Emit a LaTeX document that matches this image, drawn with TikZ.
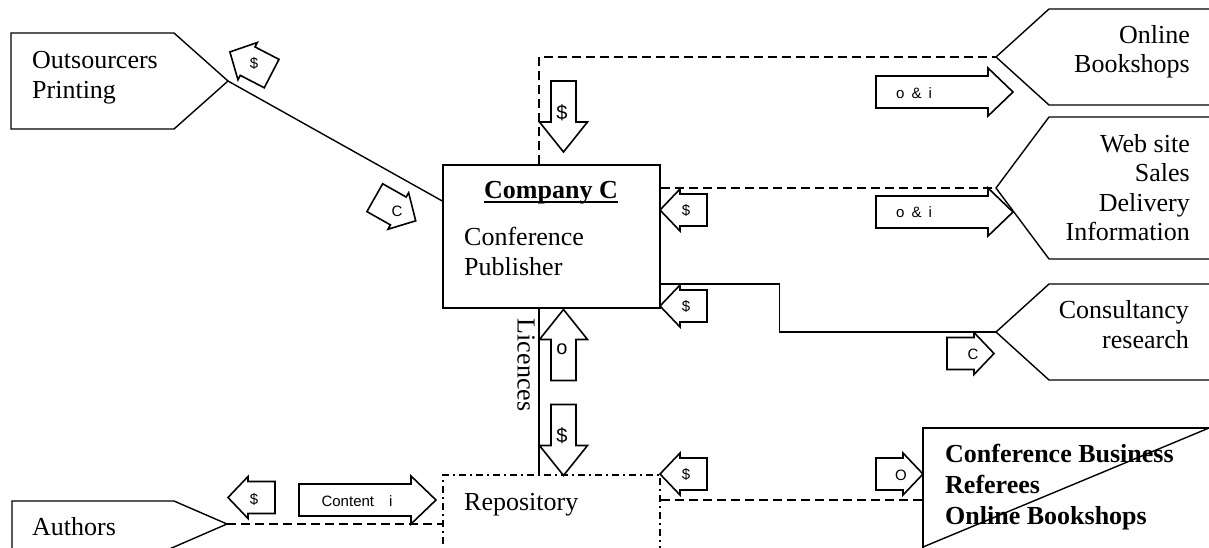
\documentclass[tikz,border=0pt]{standalone}
\usepackage{fontspec}
\setmainfont{Liberation Serif}
\newfontfamily\labelfont{Liberation Sans}

\tikzset{
  outline/.style={draw=black, line width=1.4pt, line join=miter},
  flowline/.style={draw=black, line width=1.4pt},
  dashline/.style={flowline, dash pattern=on 9pt off 5pt},
  dashdotline/.style={draw=black, line width=1.4pt, dash pattern=on 7pt off 4pt on 2pt off 4pt},
  arrowshape/.style={draw=black, line width=1.6pt, line join=miter},
  entity/.style={font=\fontsize{26}{30}\selectfont, inner sep=0pt},
  tag/.style={font=\labelfont\fontsize{15}{17}\selectfont, inner sep=0pt},
  bigtag/.style={font=\labelfont\fontsize{20}{22}\selectfont, inner sep=0pt},
}

% block arrow: centre x, centre y, direction, body length, head length, body width, head width
\newcommand\drawblockarrow[7]{%
  \begin{scope}[shift={(#1,#2)},rotate=#3]
    \pgfmathsetmacro\halflen{(#4+#5)/2}
    \pgfmathsetmacro\neck{\halflen-#5}
    \draw[arrowshape] (-\halflen,-#6/2) -- (\neck,-#6/2) -- (\neck,-#7/2) -- (\halflen,0)
      -- (\neck,#7/2) -- (\neck,#6/2) -- (-\halflen,#6/2) -- cycle;
  \end{scope}}
\newcommand\flowarrowsmall[3]{\drawblockarrow{#1}{#2}{#3}{27}{20}{32}{42}}
\newcommand\flowarrowlong[3]{\drawblockarrow{#1}{#2}{#3}{112}{25}{32}{48}}
\newcommand\flowarrowvert[3]{\drawblockarrow{#1}{#2}{#3}{41}{30}{25}{48}}

\begin{document}
\begin{tikzpicture}[x=1pt,y=1pt]
\useasboundingbox (0,0) rectangle (1209,-547);
\fill[white] (0,0) rectangle (1209,-547);
\clip (0,0) rectangle (1209,-547);

% ---- central boxes
\node[outline, minimum width=217pt, minimum height=143pt, inner sep=0pt] (company) at (551.5,-236.5) {};
\node[dashdotline, minimum width=217pt, minimum height=150pt, inner sep=0pt] (repo) at (551.5,-550) {};

% ---- partner shapes
\coordinate (outsrc) at (228,-81);
\draw[outline] (11,-33) -- (174,-33) -- (outsrc) -- (174,-129) -- (11,-129) -- cycle;

\coordinate (online) at (996,-57);
\draw[outline] (1215,-9) -- (1049,-9) -- (online) -- (1049,-105) -- (1215,-105);

\coordinate (website) at (996,-188);
\draw[outline] (1215,-117) -- (1049,-117) -- (website) -- (1049,-259) -- (1215,-259);

\coordinate (consult) at (996,-332);
\draw[outline] (1215,-284) -- (1049,-284) -- (consult) -- (1049,-380) -- (1215,-380);

\coordinate (confbiz) at (923,-500);
\draw[outline] (1215,-428) -- (923,-428) -- (923,-560);
\draw[outline] (1212,-426.75) -- (923,-547);

\coordinate (authors) at (227,-524);
\draw[outline] (12,-560) -- (12,-501) -- (174,-501) -- (authors) -- (174,-547) -- (144,-560);

% ---- connectors
\draw[flowline] (outsrc) -- ([yshift=35.5pt]company.west);
\draw[dashline] ([xshift=-12.5pt]company.north) |- (online);
\draw[dashline] ([yshift=48.5pt]company.east) -- (website);
\draw[flowline] ([yshift=-47.5pt]company.east) -- ++(119,0) |- (consult);
\draw[flowline] ([xshift=-12.5pt]company.south) -- ([xshift=-12.5pt]repo.north);
\draw[dashline] ([yshift=50pt]repo.east) -- (confbiz);
\draw[dashline] (authors) -- (repo.west |- authors);

% ---- flow arrows
\flowarrowsmall{250.75}{-62.75}{152.6}
\flowarrowsmall{395.25}{-209.25}{-29.5}
\flowarrowvert{563.5}{-116.5}{-90}
\flowarrowsmall{683.5}{-210}{180}
\flowarrowsmall{683.5}{-306}{180}
\flowarrowvert{563.5}{-345}{90}
\flowarrowvert{563.5}{-440}{-90}
\flowarrowsmall{683.5}{-474}{180}
\flowarrowlong{944.5}{-92}{0}
\flowarrowlong{944.5}{-212}{0}
\flowarrowsmall{970.5}{-353.5}{0}
\flowarrowsmall{899.5}{-474}{0}
\flowarrowsmall{251.5}{-497.5}{180}
\flowarrowlong{367.5}{-500}{0}

% ---- arrow labels
\node[tag] (tOutPay) at (254,-63) {\$};
\node[tag] (tOutC) at (397,-211) {C};
\node[bigtag] (tTopPay) at (562,-113) {\$};
\node[tag] (tWebPay) at (686,-210) {\$};
\node[tag] (tConsPay) at (686,-306) {\$};
\node[bigtag] (tRepoO) at (562,-349) {o};
\node[bigtag] (tRepoPay) at (562,-436) {\$};
\node[tag] (tBizPay) at (686,-474) {\$};
\node[tag] (tOnlineOI) at (914,-93) {o\hspace{7pt}\&\hspace{7pt}i};
\node[tag] (tWebOI) at (914,-212) {o\hspace{7pt}\&\hspace{7pt}i};
\node[tag] (tConsC) at (973,-354) {C};
\node[tag] (tBizO) at (901,-475) {O};
\node[tag] (tAuthPay) at (254,-499) {\$};
\node[tag] (tContent) at (357,-501) {Content\hspace{15pt}i};

% ---- texts
\node[entity, anchor=base west] (outA) at (32,-68) {Outsourcers};
\node[entity, anchor=base west] (outB) at (32,-98) {Printing};

\node[entity, anchor=base] (coTitle) at (551,-198) {\bfseries Company C};
\draw[line width=1.8pt] ([yshift=-4pt]coTitle.base west) -- ([yshift=-4pt]coTitle.base east);
\node[entity, anchor=base west] (coA) at (464,-245) {Conference};
\node[entity, anchor=base west] (coB) at (464,-275) {Publisher};

\node[entity, anchor=base east] (onA) at (1190,-43) {Online};
\node[entity, anchor=base east] (onB) at (1190,-72) {Bookshops};

\node[entity, anchor=base east] (webA) at (1190,-152) {Web site};
\node[entity, anchor=base east] (webB) at (1190,-181) {Sales};
\node[entity, anchor=base east] (webC) at (1190,-211) {Delivery};
\node[entity, anchor=base east] (webD) at (1190,-240) {Information};

\node[entity, anchor=base east] (consA) at (1189,-318) {Consultancy};
\node[entity, anchor=base east] (consB) at (1189,-348) {research};

\node[entity, anchor=base west] (bizA) at (945,-462) {\bfseries Conference Business};
\node[entity, anchor=base west] (bizB) at (945,-493) {\bfseries Referees};
\node[entity, anchor=base west] (bizC) at (945,-524) {\bfseries Online Bookshops};

\node[entity, anchor=base west] (authTxt) at (32,-535) {Authors};
\node[entity, anchor=base west] (repoTxt) at (464,-510) {Repository};
\node[entity, rotate=-90] (licTxt) at (526,-365) {Licences};
\end{tikzpicture}
\end{document}
